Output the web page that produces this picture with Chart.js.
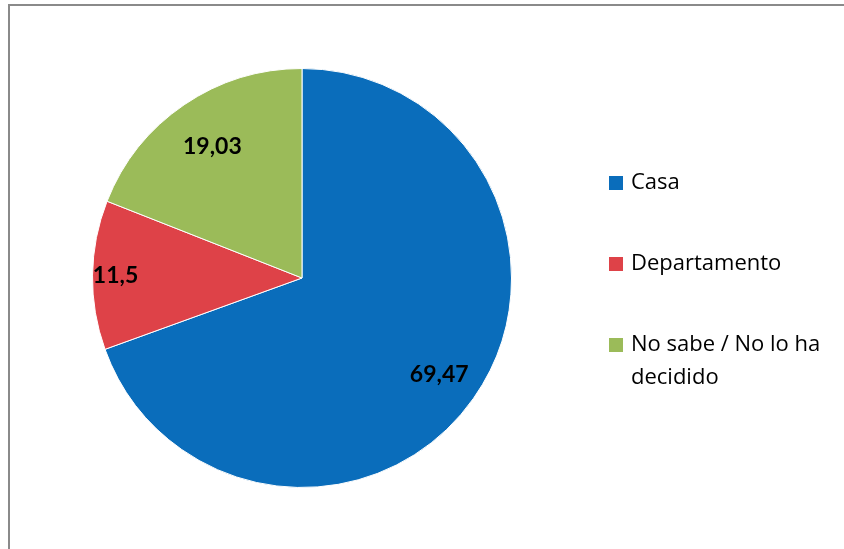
<!DOCTYPE html>
<html>
<head>
<meta charset="utf-8">
<script src="https://cdn.jsdelivr.net/npm/chart.js@4/dist/chart.umd.min.js"></script>
<style>
  html, body { margin: 0; padding: 0; background: #fff; }
  canvas { display: block; }
</style>
</head>
<body>
<canvas id="c" width="844" height="549"></canvas>
<script>
const labels = ['Casa', 'Departamento', 'No sabe / No lo ha decidido']
const values = [69.47, 11.5, 19.03]
const colors = ['#0A6DBB', '#DE4248', '#9BBB59']

const fmt = (v) => String(v).replace('.', ',')

// gray frame like the Excel chart area
const frame = {
  id: 'frame',
  beforeDraw: (chart) => {
    const ctx = chart.ctx
    ctx.save()
    ctx.fillStyle = '#fff'
    ctx.fillRect(0, 0, chart.width, chart.height)
    ctx.strokeStyle = '#8a8a8a'
    ctx.lineWidth = 2
    ctx.strokeRect(9, 5, chart.width + 10, chart.height + 10)
    ctx.restore()
  }
}

// value labels inside the slices
const sliceLabels = {
  id: 'sliceLabels',
  afterDatasetsDraw: (chart) => {
    const ctx = chart.ctx
    const meta = chart.getDatasetMeta(0)
    const depth = [0.8, 0.89, 0.76]
    ctx.save()
    ctx.font = 'bold 23px Lato'
    ctx.fillStyle = '#000'
    ctx.textAlign = 'center'
    ctx.textBaseline = 'middle'
    meta.data.forEach((arc, i) => {
      const p = arc.getProps(['x', 'y', 'startAngle', 'endAngle', 'outerRadius'], true)
      const a = (p.startAngle + p.endAngle) / 2
      const r = p.outerRadius * depth[i]
      ctx.fillText(fmt(chart.data.datasets[0].data[i]), p.x + Math.cos(a) * r, p.y + Math.sin(a) * r)
    })
    ctx.restore()
  }
}

// legend on the right with wrapping text
const sideLegend = {
  id: 'sideLegend',
  afterDraw: (chart) => {
    const ctx = chart.ctx
    const ds = chart.data.datasets[0]
    const x = 609, tx = 631, maxW = 210, step = 81, lineH = 33
    let y = 183
    ctx.save()
    ctx.font = '22px "Open Sans"'
    ctx.textBaseline = 'middle'
    chart.data.labels.forEach((lab, i) => {
      ctx.fillStyle = ds.backgroundColor[i]
      ctx.fillRect(x, y - 7, 14, 14)
      ctx.fillStyle = '#000'
      const words = lab.split(' ')
      let line = ''
      let ly = y
      words.forEach((w) => {
        const t = line ? line + ' ' + w : w
        if (ctx.measureText(t).width > maxW && line) {
          ctx.fillText(line, tx, ly)
          line = w
          ly += lineH
        } else {
          line = t
        }
      })
      ctx.fillText(line, tx, ly)
      y += step
    })
    ctx.restore()
  }
}

new Chart(document.getElementById('c'), {
  type: 'pie',
  data: {
    labels: labels,
    datasets: [{
      data: values,
      backgroundColor: colors,
      borderColor: '#fff',
      borderWidth: 1
    }]
  },
  options: {
    responsive: false,
    animation: false,
    layout: { padding: { left: 92, right: 332, top: 68, bottom: 61 } },
    plugins: {
      legend: { display: false },
      tooltip: { enabled: false }
    }
  },
  plugins: [frame, sliceLabels, sideLegend]
})
</script>
</body>
</html>
